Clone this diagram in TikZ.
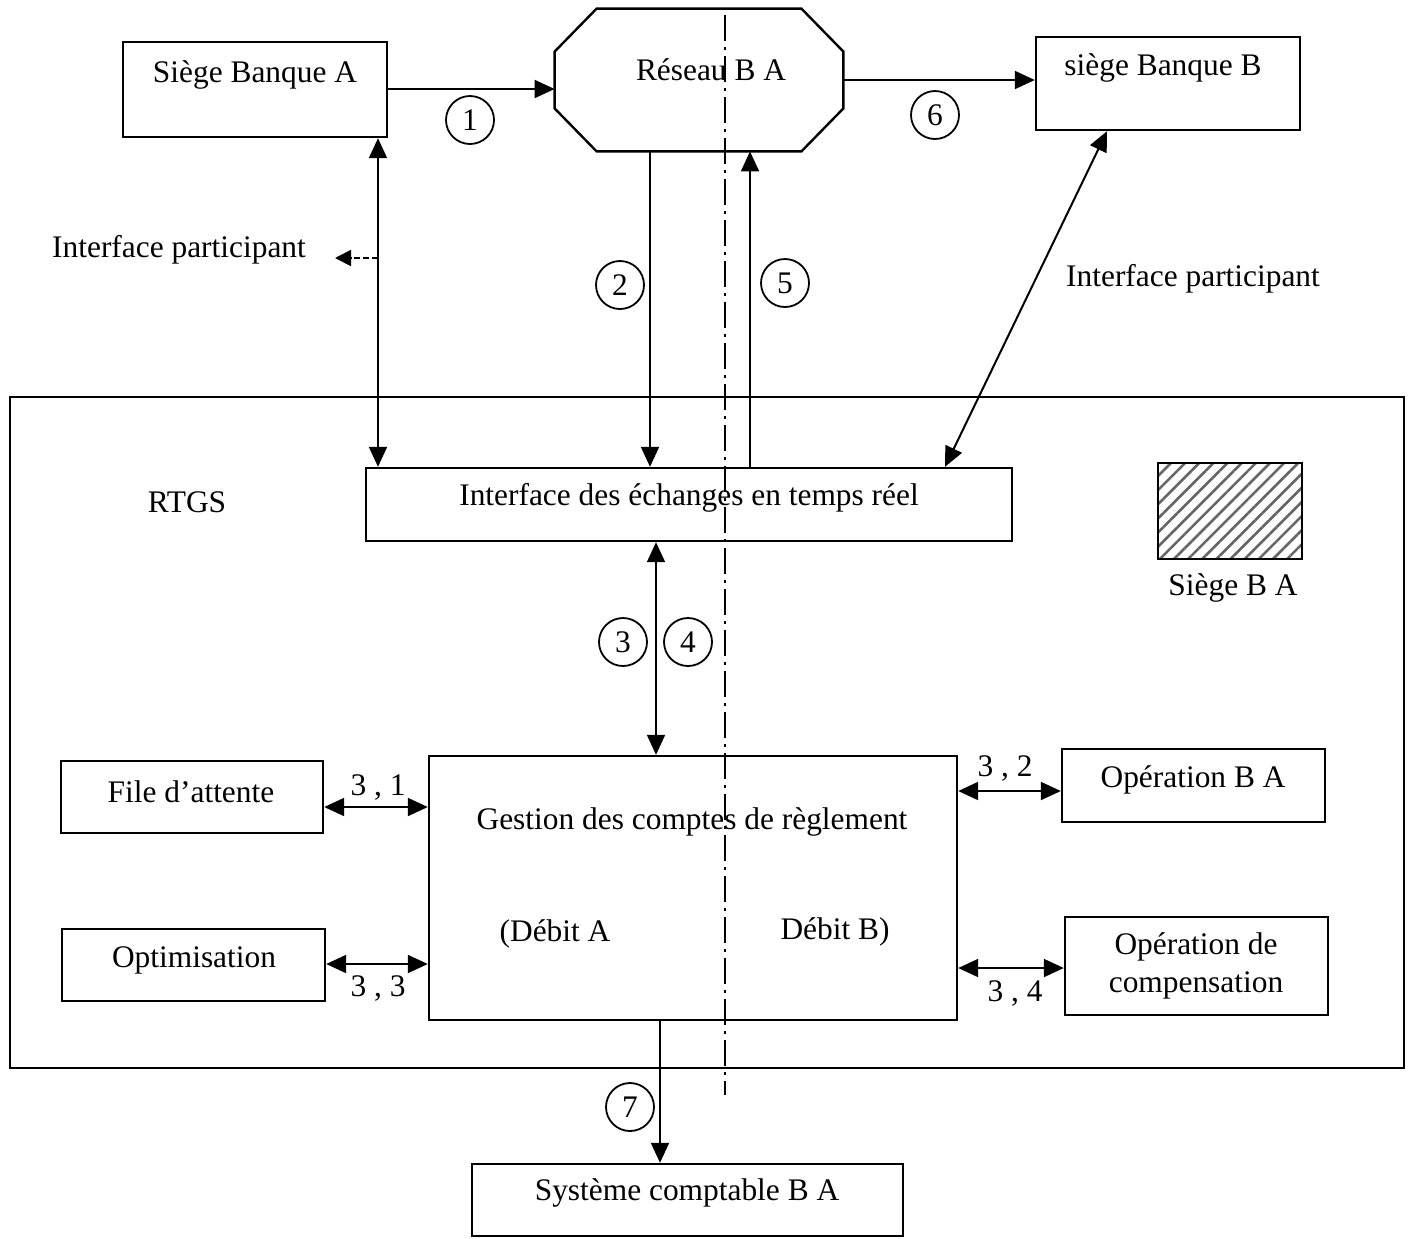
\documentclass[tikz,border=0pt]{standalone}
\usepackage{fontspec}
\setmainfont{Liberation Serif}
\usetikzlibrary{arrows.meta,patterns.meta}
\begin{document}
\begin{tikzpicture}[x=0.5pt,y=-0.5pt,
  box/.style={draw, line width=1.2pt, rectangle, inner sep=0pt},
  txt/.style={inner sep=0pt, font=\fontsize{15.7}{19}\selectfont},
  num/.style={draw, circle, line width=0.9pt, minimum size=24pt, inner sep=0pt, font=\fontsize{15.7}{19}\selectfont},
  conn/.style={line width=1pt, -{Triangle[length=10pt,width=9pt]}},
  dconn/.style={line width=1pt, {Triangle[length=10pt,width=9pt]}-{Triangle[length=10pt,width=9pt]}},
  dashconn/.style={line width=0.9pt, dash pattern=on 3pt off 1.5pt, -{Triangle[length=8pt,width=8pt]}},
  axis/.style={line width=1.2pt, dash pattern=on 13pt off 3pt on 1.5pt off 3pt},
]
\useasboundingbox (0,0) rectangle (1411,1238);

% helper x / y positions
\coordinate (x2) at (650,0);
\coordinate (x5) at (750,0);
\coordinate (xA) at (378,0);
\coordinate (xB) at (1107,0);
\coordinate (xI) at (945,0);
\coordinate (x34) at (656,0);
\coordinate (x7) at (660,0);
\coordinate (y1) at (0,89);
\coordinate (yfa) at (0,807);
\coordinate (yop) at (0,964);
\coordinate (yba) at (0,791);
\coordinate (yoc) at (0,968);
\coordinate (ydash) at (0,258);

% RTGS frame
\node[box, minimum width=697pt, minimum height=335.5pt] (rtgs) at (707,732.5) {};
\node[txt] (rtgsT) at (187,502) {RTGS};

% top row
\node[box, minimum width=132pt, minimum height=47.5pt] (sa) at (255,89.5) {};
\node[txt] (saT) at (255,75) {Siège Banque A};

\node[rectangle, inner sep=0pt, minimum width=144pt, minimum height=71pt] (net) at (699,80) {};
\draw[line width=1.2pt] ([xshift=21pt]net.north west) -- ([xshift=-21pt]net.north east)
  -- ([yshift=-21.5pt]net.north east) -- ([yshift=21.5pt]net.south east)
  -- ([xshift=-21pt]net.south east) -- ([xshift=21pt]net.south west)
  -- ([yshift=21.5pt]net.south west) -- ([yshift=-21.5pt]net.north west) -- cycle;
\node[txt] (netT) at (711,70) {Réseau B A};

\node[box, minimum width=132pt, minimum height=46.5pt] (sb) at (1168,83.5) {};
\node[txt] (sbT) at (1163,68) {siège Banque B};

% vertical dash-dot axis
\coordinate (axTop) at (725,15);
\coordinate (axBot) at (725,1095);
\draw[axis] (axTop) -- (axBot);

% interface des échanges
\node[box, minimum width=323pt, minimum height=36.5pt] (ie) at (689,504.5) {};
\node[txt] (ieT) at (689,498) {Interface des échanges en temps réel};

% hatched legend
\node[box, minimum width=72pt, minimum height=48pt,
      pattern={Lines[angle=45,distance=5pt,line width=1.3pt]}, pattern color=black!60] (hb) at (1230,511) {};
\node[txt] (hbT) at (1233,588) {Siège B A};

% gestion
\node[box, minimum width=264pt, minimum height=132pt] (gc) at (693,888) {};
\node[txt] (gcT) at (692,822) {Gestion des comptes de règlement};
\node[txt] (gcA) at (555,934) {(Débit A};
\node[txt] (gcB) at (835,932) {Débit B)};

% side boxes
\node[box, minimum width=131pt, minimum height=36pt] (fa) at (192,797) {};
\node[txt] (faT) at (191,792) {File d’attente};
\node[box, minimum width=131.5pt, minimum height=36pt] (opt) at (193.5,965) {};
\node[txt] (optT) at (194,960) {Optimisation};
\node[box, minimum width=131.5pt, minimum height=36.5pt] (oba) at (1193.5,785.5) {};
\node[txt] (obaT) at (1193,780) {Opération B A};
\node[box, minimum width=131.5pt, minimum height=49pt] (oc) at (1196.5,966) {};
\node[txt, align=center] (ocT) at (1196,966) {Opération de\\compensation};

% comptable
\node[box, minimum width=215.5pt, minimum height=36pt] (sc) at (687.5,1200) {};
\node[txt] (scT) at (687,1193) {Système comptable B A};

% connectors
\draw[conn] (sa.east |- y1) -- (net.west |- y1);
\node[num] (n1) at (470,120) {1};
\draw[conn] (net.east) -- (sb.west |- net.east);
\node[num] (n6) at (935,115) {6};

\draw[conn] (net.south -| x2) -- (ie.north -| x2);
\node[num] (n2) at (620,285) {2};
\draw[conn] (ie.north -| x5) -- (net.south -| x5);
\node[num] (n5) at (785,283) {5};

\draw[dconn] (sa.south -| xA) -- (ie.north -| xA);
\coordinate (ipA) at (335,258);
\draw[dashconn] (xA |- ydash) -- (ipA);
\node[txt] (ipL) at (179,250) {Interface participant};

\draw[dconn] (sb.south -| xB) -- (ie.north -| xI);
\node[txt] (ipR) at (1193,279) {Interface participant};

\draw[dconn] (ie.south -| x34) -- (gc.north -| x34);
\node[num] (n3) at (623,642) {3};
\node[num] (n4) at (688,642) {4};

\draw[dconn] (fa.east |- yfa) -- (gc.west |- yfa);
\node[txt] (l31) at (378,787) {3 , 1};
\draw[dconn] (opt.east |- yop) -- (gc.west |- yop);
\node[txt] (l33) at (378,988) {3 , 3};
\draw[dconn] (gc.east |- yba) -- (oba.west |- yba);
\node[txt] (l32) at (1005,768) {3 , 2};
\draw[dconn] (gc.east |- yoc) -- (oc.west |- yoc);
\node[txt] (l34) at (1015,993) {3 , 4};

\draw[conn] (gc.south -| x7) -- (sc.north -| x7);
\node[num] (n7) at (630,1107) {7};
\end{tikzpicture}
\end{document}
